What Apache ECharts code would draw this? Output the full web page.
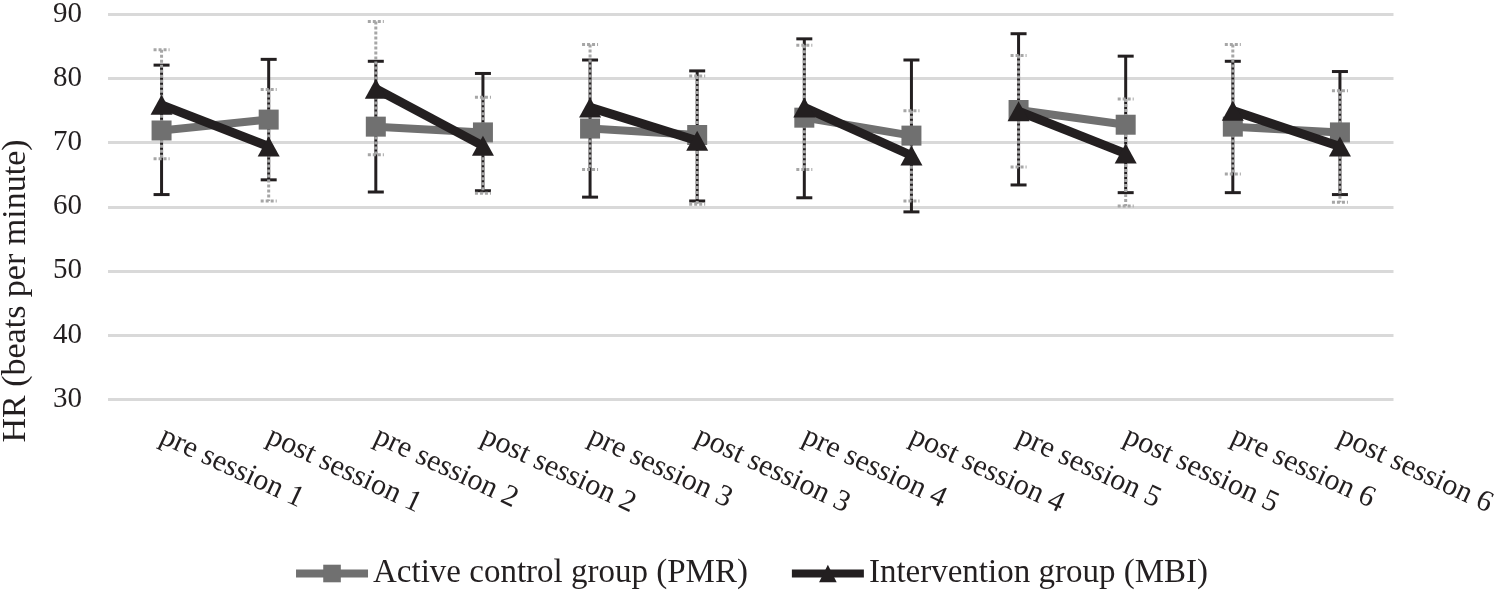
<!DOCTYPE html>
<html>
<head>
<meta charset="utf-8">
<script src="https://cdn.jsdelivr.net/npm/echarts@6/dist/echarts.min.js"></script>
<style>
html,body{margin:0;padding:0;background:#fff;}
#chart{width:1500px;height:591px;}
</style>
</head>
<body>
<div id="chart"></div>
<script>
const categories = ['pre session 1','post session 1','pre session 2','post session 2','pre session 3','post session 3',
  'pre session 4','post session 4','pre session 5','post session 5','pre session 6','post session 6'];
const pmrMean = [71.9, 73.6, 72.5, 71.6, 72.2, 71.2, 73.9, 71.1, 75.1, 72.8, 72.5, 71.6];
const mbiMean = [75.9, 69.4, 78.4, 69.5, 75.5, 70.3, 75.5, 68.0, 74.9, 68.3, 75.0, 69.4];
const pmrHigh = [84.5, 78.3, 88.9, 77.1, 85.3, 80.4, 85.2, 75.0, 83.6, 76.8, 85.3, 78.1];
const pmrLow  = [67.5, 60.9, 68.1, 62.1, 65.8, 60.4, 65.8, 60.9, 66.2, 60.1, 65.1, 60.7];
const mbiHigh = [82.1, 83.0, 82.7, 80.8, 82.9, 81.2, 86.2, 82.9, 87.0, 83.5, 82.7, 81.1];
const mbiLow  = [61.9, 64.2, 62.3, 62.5, 61.5, 60.9, 61.4, 59.2, 63.4, 62.2, 62.2, 61.9];
const yTicks = [30, 40, 50, 60, 70, 80, 90];
const PMR = 'Active control group (PMR)';
const MBI = 'Intervention group (MBI)';

const serif = '"Liberation Serif", "Times New Roman", serif';
const chart = echarts.init(document.getElementById('chart'));

function errBar(color, dashed, width) {
  return function (params, api) {
    const x = api.value(0);
    const hi = api.coord([x, api.value(2)]);
    const lo = api.coord([x, api.value(1)]);
    const cap = 8;
    const style = {stroke: color, lineWidth: width, lineDash: dashed ? [3, 2] : null, fill: null};
    return {
      type: 'group',
      children: [
        {type: 'line', shape: {x1: hi[0], y1: hi[1], x2: lo[0], y2: lo[1]}, style: style},
        {type: 'line', shape: {x1: hi[0] - cap, y1: hi[1], x2: hi[0] + cap, y2: hi[1]}, style: style},
        {type: 'line', shape: {x1: lo[0] - cap, y1: lo[1], x2: lo[0] + cap, y2: lo[1]}, style: style}
      ]
    };
  };
}

const mbiErr = categories.map((c, i) => [i, mbiLow[i], mbiHigh[i]]);
const pmrErr = categories.map((c, i) => [i, pmrLow[i], pmrHigh[i]]);

// one segment per session (pre -> post), so pairs are not joined across sessions
function sessionSeries(name, means, color, width, symbol, size, z) {
  const out = [];
  for (let s = 0; s < means.length / 2; s++) {
    const data = means.map((v, i) => (i === 2 * s || i === 2 * s + 1) ? v : null);
    out.push({
      type: 'line', name: name, data: data, connectNulls: false,
      symbol: symbol, symbolSize: size, z: z,
      lineStyle: {color: color, width: width},
      itemStyle: {color: color}
    });
  }
  return out;
}

chart.setOption({
  animation: false,
  backgroundColor: '#fff',
  grid: {left: 108, right: 105, top: 11, bottom: 192},
  xAxis: {
    type: 'category',
    data: categories,
    boundaryGap: true,
    axisLine: {show: false},
    axisTick: {show: false},
    axisLabel: {
      interval: 0, rotate: -25, margin: 36,
      fontFamily: serif, fontSize: 30, color: '#231f20'
    }
  },
  yAxis: {
    type: 'value', min: 30, max: 90, interval: 10,
    axisLine: {show: false}, axisTick: {show: false},
    axisLabel: {fontFamily: serif, fontSize: 29, color: '#231f20', margin: 26},
    splitLine: {lineStyle: {color: '#d9d9d9', width: 3}}
  },
  graphic: [{
    type: 'text',
    x: 16, y: 291, rotation: Math.PI / 2,
    style: {text: 'HR (beats per minute)', font: '34px ' + serif, fill: '#231f20',
      textAlign: 'center', textVerticalAlign: 'middle'}
  }],
  legend: {
    bottom: -4, left: 'center',
    itemWidth: 72, itemHeight: 22, itemGap: 40,
    lineStyle: {width: 8},
    textStyle: {fontFamily: serif, fontSize: 33, color: '#231f20'},
    data: [PMR, MBI]
  },
  series: [
    {
      type: 'custom', name: 'mbiErr', data: mbiErr,
      encode: {x: 0, y: [1, 2]},
      renderItem: errBar('#231f20', false, 3), z: 2, silent: true
    },
    {
      type: 'custom', name: 'pmrErr', data: pmrErr,
      encode: {x: 0, y: [1, 2]},
      renderItem: errBar('#a6a6a6', true, 3), z: 2, silent: true
    }
  ].concat(
    sessionSeries(PMR, pmrMean, '#707070', 8, 'rect', 20, 3),
    sessionSeries(MBI, mbiMean, '#231f20', 9, 'triangle', [22, 20], 4)
  )
});
</script>
</body>
</html>
